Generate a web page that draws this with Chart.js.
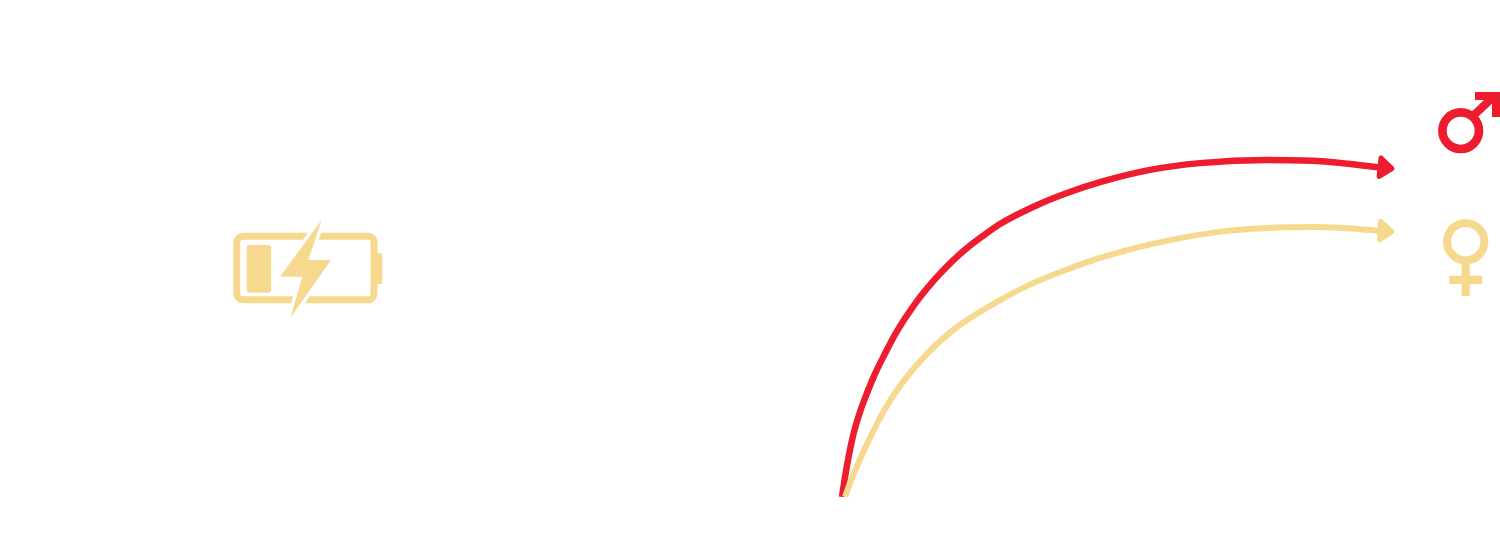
<!DOCTYPE html>
<html>
<head>
<meta charset="utf-8">
<style>
  html, body { margin: 0; padding: 0; background: #fff; }
  canvas { display: block; }
</style>
<script src="https://cdn.jsdelivr.net/npm/chart.js@4"></script>
</head>
<body>
<canvas id="chart" width="1500" height="559"></canvas>
<script>
const RED = "#ed1c2e";
const YELLOW = "#f6d98e";

const maleX = [0, 0.55, 1.27, 2.18, 3.27, 4.55, 6, 7.82, 10, 13.27, 16.55, 19.64, 22.73, 25.64, 28.73, 34.73, 40.91, 46.91, 56, 65.09, 77.27, 86.36, 98.73];
const maleY = [0, 5.9, 12.4, 19.1, 25, 30.6, 36.2, 42.2, 48.8, 56.8, 63.4, 68.7, 73.2, 76.8, 80.3, 85.3, 89.4, 92.6, 96.2, 98.2, 99.1, 98.8, 96.8];

const femaleX = [0.55, 1.45, 2.73, 5.09, 7.82, 10.91, 15.45, 20.91, 28.18, 34.73, 40.91, 46.91, 56, 62, 68.18, 77.27, 86.36, 98.73];
const femaleY = [0, 4.1, 9.1, 17.4, 25.9, 33.5, 42.1, 50, 57.4, 62.9, 66.9, 70.3, 74.3, 76.3, 77.9, 79.1, 79.4, 78.2];

function toPoints(xs, ys) {
  return xs.map((x, i) => ({ x: x, y: ys[i] }));
}

// arrow head on the last point of each line
function drawArrowHead(ctx, meta, color) {
  const pts = meta.data;
  const last = pts[pts.length - 1];
  const prev = pts[pts.length - 2];
  const angle = Math.atan2(last.y - prev.y, last.x - prev.x);
  ctx.save();
  ctx.translate(last.x, last.y);
  ctx.rotate(angle);
  ctx.fillStyle = color;
  ctx.strokeStyle = color;
  ctx.lineWidth = 5;
  ctx.lineJoin = "round";
  ctx.beginPath();
  ctx.moveTo(-5, -9.5);
  ctx.lineTo(7, 0);
  ctx.lineTo(-5, 9);
  ctx.closePath();
  ctx.fill();
  ctx.stroke();
  ctx.restore();
}

function drawMale(ctx) {
  ctx.save();
  ctx.strokeStyle = RED;
  ctx.fillStyle = RED;
  ctx.lineWidth = 8.7;
  ctx.beginPath();
  ctx.arc(1460.7, 130.7, 18.3, 0, Math.PI * 2);
  ctx.stroke();
  ctx.lineWidth = 8;
  ctx.beginPath();
  ctx.moveTo(1473, 116);
  ctx.lineTo(1491, 99);
  ctx.stroke();
  ctx.beginPath();
  ctx.moveTo(1475, 92);
  ctx.lineTo(1500, 92);
  ctx.lineTo(1500, 117);
  ctx.lineTo(1492, 117);
  ctx.lineTo(1492, 100);
  ctx.lineTo(1475, 100);
  ctx.closePath();
  ctx.fill();
  ctx.restore();
}

function drawFemale(ctx) {
  ctx.save();
  ctx.strokeStyle = YELLOW;
  ctx.fillStyle = YELLOW;
  ctx.lineWidth = 8;
  ctx.beginPath();
  ctx.arc(1465.7, 241.7, 18.7, 0, Math.PI * 2);
  ctx.stroke();
  ctx.fillRect(1461.6, 262, 8.2, 34);
  ctx.fillRect(1449.3, 275.7, 33, 8.3);
  ctx.restore();
}

function drawBattery(ctx) {
  ctx.save();
  ctx.strokeStyle = YELLOW;
  ctx.fillStyle = YELLOW;
  ctx.lineWidth = 7;
  ctx.beginPath();
  ctx.roundRect(236.8, 236.2, 137.2, 63.6, 6);
  ctx.stroke();
  ctx.beginPath();
  ctx.roundRect(376, 253.3, 6.3, 30.7, 2);
  ctx.fill();
  ctx.beginPath();
  ctx.roundRect(246.7, 245, 24.4, 47.7, 3);
  ctx.fill();

  ctx.beginPath();
  ctx.moveTo(321.7, 220);
  ctx.lineTo(308.3, 260);
  ctx.lineTo(331, 260);
  ctx.lineTo(290.7, 317.3);
  ctx.lineTo(302.3, 276.7);
  ctx.lineTo(280, 276.7);
  ctx.closePath();
  ctx.strokeStyle = "#fff";
  ctx.lineWidth = 7;
  ctx.lineJoin = "miter";
  ctx.stroke();
  ctx.fill();
  ctx.restore();
}

const iconsPlugin = {
  id: "icons",
  afterDatasetsDraw(chart) {
    const ctx = chart.ctx;
    drawArrowHead(ctx, chart.getDatasetMeta(0), YELLOW);
    drawArrowHead(ctx, chart.getDatasetMeta(1), RED);
    drawBattery(ctx);
    drawMale(ctx);
    drawFemale(ctx);
  }
};

const ctx = document.getElementById("chart").getContext("2d");

new Chart(ctx, {
  type: "scatter",
  data: {
    datasets: [
      {
        label: "Female",
        data: toPoints(femaleX, femaleY),
        showLine: true,
        borderColor: YELLOW,
        borderWidth: 6,
        pointRadius: 0,
        cubicInterpolationMode: "monotone",
        clip: { left: 10, top: 10, right: 40, bottom: 0 }
      },
      {
        label: "Male",
        data: toPoints(maleX, maleY),
        showLine: true,
        borderColor: RED,
        borderWidth: 6.5,
        pointRadius: 0,
        cubicInterpolationMode: "monotone",
        clip: { left: 10, top: 10, right: 40, bottom: 0 }
      }
    ]
  },
  options: {
    responsive: false,
    animation: false,
    layout: { padding: { left: 842, right: 108, top: 157, bottom: 62 } },
    plugins: { legend: { display: false }, title: { display: false }, tooltip: { enabled: false } },
    scales: {
      x: { type: "linear", min: 0, max: 100, display: false },
      y: { type: "linear", min: 0, max: 100, display: false }
    }
  },
  plugins: [iconsPlugin]
});
</script>
</body>
</html>
